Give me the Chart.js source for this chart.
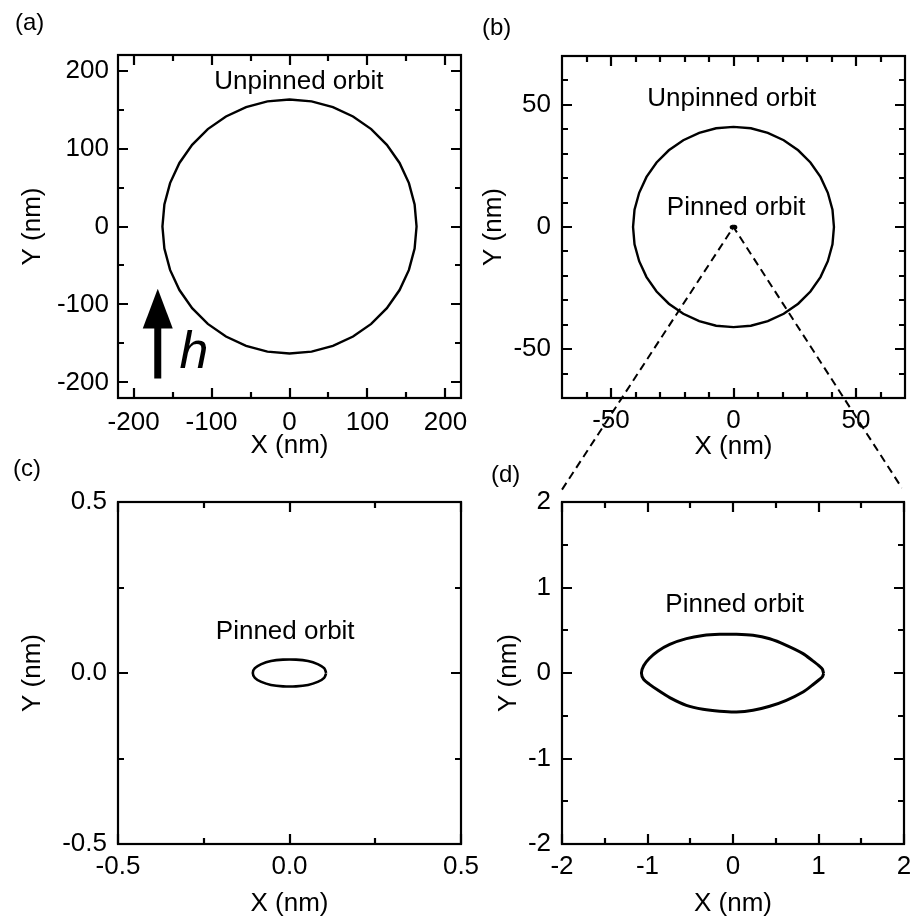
<!DOCTYPE html>
<html><head><meta charset="utf-8">
<script src="https://cdn.jsdelivr.net/npm/chart.js@4/dist/chart.umd.min.js"></script>
<style>
html,body{margin:0;padding:0;background:#fff;overflow:hidden}
#wrap{position:relative;width:914px;height:923px}
canvas{position:absolute;left:0;top:0}
</style></head><body>
<div id="wrap">
<canvas id="cA" width="914" height="923"></canvas>
<canvas id="cC" width="914" height="923"></canvas>
<canvas id="cD" width="914" height="923"></canvas>
<canvas id="cB" width="914" height="923"></canvas>
</div>
<script>
// ---------- data ----------
// (a) unpinned orbit, nm
const aOrbitX = [163, 160.5, 153.2, 141.2, 124.9, 104.8, 81.5, 55.7, 28.3, 0, -28.3, -55.7, -81.5, -104.8, -124.9, -141.2, -153.2, -160.5, -163, -160.5, -153.2, -141.2, -124.9, -104.8, -81.5, -55.7, -28.3, 0, 28.3, 55.7, 81.5, 104.8, 124.9, 141.2, 153.2, 160.5, 163];
const aOrbitY = [0, 28.3, 55.7, 81.5, 104.8, 124.9, 141.2, 153.2, 160.5, 163, 160.5, 153.2, 141.2, 124.9, 104.8, 81.5, 55.7, 28.3, 0, -28.3, -55.7, -81.5, -104.8, -124.9, -141.2, -153.2, -160.5, -163, -160.5, -153.2, -141.2, -124.9, -104.8, -81.5, -55.7, -28.3, 0];
// (b) unpinned orbit, nm
const bOrbitX = [41, 40.4, 38.5, 35.5, 31.4, 26.4, 20.5, 14.0, 7.1, 0, -7.1, -14.0, -20.5, -26.4, -31.4, -35.5, -38.5, -40.4, -41, -40.4, -38.5, -35.5, -31.4, -26.4, -20.5, -14.0, -7.1, 0, 7.1, 14.0, 20.5, 26.4, 31.4, 35.5, 38.5, 40.4, 41];
const bOrbitY = [0, 7.1, 14.0, 20.5, 26.4, 31.4, 35.5, 38.5, 40.4, 41, 40.4, 38.5, 35.5, 31.4, 26.4, 20.5, 14.0, 7.1, 0, -7.1, -14.0, -20.5, -26.4, -31.4, -35.5, -38.5, -40.4, -41, -40.4, -38.5, -35.5, -31.4, -26.4, -20.5, -14.0, -7.1, 0];
// pinned orbit (lens shape, panels b and d), nm
const pinnedX = [1.06, 1.045, 1.0, 0.93, 0.819, 0.624, 0.429, 0.234, 0.04, -0.156, -0.351, -0.545, -0.74, -0.88, -0.98, -1.045, -1.071, -1.045, -0.98, -0.88, -0.74, -0.545, -0.351, -0.156, 0.04, 0.234, 0.429, 0.624, 0.819, 0.93, 1.0, 1.045, 1.06];
const pinnedY = [-0.007, 0.045, 0.09, 0.145, 0.227, 0.324, 0.40, 0.441, 0.453, 0.452, 0.438, 0.402, 0.335, 0.255, 0.17, 0.085, 0, -0.075, -0.13, -0.2, -0.288, -0.378, -0.425, -0.448, -0.456, -0.436, -0.389, -0.319, -0.222, -0.14, -0.085, -0.045, -0.007];
// (c) pinned orbit, nm
const cOrbitX = [0.107, 0.101, 0.082, 0.054, 0.019, -0.019, -0.054, -0.082, -0.101, -0.107, -0.101, -0.082, -0.054, -0.019, 0.019, 0.054, 0.082, 0.101, 0.107];
const cOrbitY = [0, 0.014, 0.026, 0.035, 0.039, 0.039, 0.035, 0.026, 0.014, 0, -0.014, -0.026, -0.035, -0.039, -0.039, -0.035, -0.026, -0.014, 0];
// zoom connector from the pinned orbit in (b) to the corners of (d), in (b) units
const zoomLineX = [-70, 0, 68.7];
const zoomLineY = [-107.5, 0, -106.8];

// ticks
const aMajor = [-200, -100, 0, 100, 200];
const aLabels = ['-200', '-100', '0', '100', '200'];
const aMinor = [-150, -50, 50, 150];
const bMajor = [-50, 0, 50];
const bLabels = ['-50', '0', '50'];
const bMinor = [-60, -40, -30, -20, -10, 10, 20, 30, 40, 60];
const cMajor = [-0.5, 0, 0.5];
const cLabels = ['-0.5', '0.0', '0.5'];
const cMinor = [-0.25, 0.25];
const dMajor = [-2, -1, 0, 1, 2];
const dLabels = ['-2', '-1', '0', '1', '2'];
const dMinor = [-1.5, -0.5, 0.5, 1.5];

// ---------- drawing ----------
const FAM = '"Liberation Sans", Arial, Helvetica, sans-serif';
Chart.defaults.font.family = FAM;
Chart.defaults.color = '#000';

const pts = (xs, ys) => xs.map((x, i) => ({x, y: ys[i]}));

const frameTicks = {
  id: 'frameTicks',
  afterDatasetsDraw(chart, args, o) {
    const {ctx, chartArea: a, scales: {x, y}} = chart;
    ctx.save();
    ctx.strokeStyle = '#000';
    ctx.lineWidth = 2.2;
    ctx.lineCap = 'butt';
    const mark = (scale, vals, len) => vals.forEach(v => {
      const p = Math.round(scale.getPixelForValue(v));
      ctx.beginPath();
      if (scale.isHorizontal()) {
        ctx.moveTo(p, a.bottom); ctx.lineTo(p, a.bottom - len);
        ctx.moveTo(p, a.top); ctx.lineTo(p, a.top + len);
      } else {
        ctx.moveTo(a.left, p); ctx.lineTo(a.left + len, p);
        ctx.moveTo(a.right, p); ctx.lineTo(a.right - len, p);
      }
      ctx.stroke();
    });
    mark(x, o.major, 10); mark(x, o.minor, 6);
    mark(y, o.major, 10); mark(y, o.minor, 6);
    ctx.strokeRect(a.left, a.top, a.right - a.left, a.bottom - a.top);
    ctx.restore();
  }
};

const notes = {
  id: 'notes',
  afterDatasetsDraw(chart, args, o) {
    const {ctx, scales: {x, y}} = chart;
    ctx.save();
    ctx.fillStyle = '#000';
    ctx.textBaseline = 'alphabetic';
    (o.labels || []).forEach(l => {
      ctx.font = l.font;
      ctx.textAlign = l.align || 'center';
      ctx.fillText(l.text, x.getPixelForValue(l.x), y.getPixelForValue(l.y));
    });
    if (o.arrow) {
      const ar = o.arrow;
      const px = x.getPixelForValue(ar.x);
      const yb = y.getPixelForValue(ar.y0), yh = y.getPixelForValue(ar.yBase), yt = y.getPixelForValue(ar.y1);
      ctx.fillRect(px - ar.shaft / 2, yh - 1, ar.shaft, yb - yh + 1);
      ctx.beginPath();
      ctx.moveTo(px, yt); ctx.lineTo(px + ar.head, yh); ctx.lineTo(px - ar.head, yh); ctx.closePath();
      ctx.fill();
    }
    if (o.panel) {
      ctx.font = '24px ' + FAM;
      ctx.textAlign = 'left';
      ctx.fillText(o.panel.text, o.panel.px, o.panel.py);
    }
    ctx.restore();
  }
};

function makePanel(id, p) {
  const tickFont = {size: 26, family: FAM, lineHeight: 1.2};
  const titleFont = {size: 26, family: FAM, lineHeight: 1.2};
  const zeroPad = s => { s.paddingLeft = s.paddingRight = s.paddingTop = s.paddingBottom = 0; };
  const axis = (pos, title, size, tickPad, titlePad) => ({
    type: 'linear', position: pos, min: p.min, max: p.max,
    grid: {display: false, drawTicks: false},
    border: {display: false},
    afterBuildTicks: s => { s.ticks = p.major.map(v => ({value: v})); },
    ticks: {font: tickFont, padding: tickPad, autoSkip: false, maxRotation: 0,
            callback: (v, i) => p.labels[i]},
    title: {display: true, text: title, font: titleFont, padding: titlePad},
    afterFit: s => { if (pos === 'bottom') s.height = size; else s.width = size; zeroPad(s); }
  });
  return new Chart(document.getElementById(id), {
    type: 'scatter',
    data: {datasets: p.datasets},
    options: {
      responsive: false, animation: false, events: [],
      layout: {padding: p.pad},
      plugins: {legend: {display: false}, tooltip: {enabled: false},
                frameTicks: {major: p.major, minor: p.minor}, notes: p.notes},
      scales: {
        x: axis('bottom', 'X (nm)', p.hx, p.xTickPad, {top: 0, bottom: p.xTitlePad}),
        y: axis('left', 'Y (nm)', p.wy, p.yTickPad, {top: p.yTitlePad, bottom: 0})
      }
    },
    plugins: [frameTicks, notes]
  });
}

const line = (data, w, extra) => Object.assign({data, showLine: true, pointRadius: 0, borderColor: '#000',
  backgroundColor: '#000', borderWidth: w, fill: false, tension: 0}, extra || {});
const noteFont = '26px ' + FAM;

makePanel('cA', {
  min: -220, max: 220, major: aMajor, labels: aLabels, minor: aMinor,
  pad: {left: 0, right: 453, top: 55, bottom: 453}, wy: 118, hx: 72,
  xTickPad: 9, yTickPad: 9, xTitlePad: 9, yTitlePad: 17,
  datasets: [line(pts(aOrbitX, aOrbitY), 2.4)],
  notes: {
    labels: [{text: 'Unpinned orbit', x: 12, y: 176.5, font: noteFont},
             {text: 'h', x: -141, y: -181, font: 'italic 52px ' + FAM, align: 'left'}],
    arrow: {x: -169, y0: -195, yBase: -131, y1: -80, shaft: 7, head: 15},
    panel: {text: '(a)', px: 15, py: 30}
  }
});

makePanel('cB', {
  min: -70, max: 70, major: bMajor, labels: bLabels, minor: bMinor,
  pad: {left: 460, right: 9, top: 56, bottom: 453}, wy: 102, hx: 72,
  xTickPad: 7, yTickPad: 11, xTitlePad: 8, yTitlePad: 18,
  datasets: [line(pts(bOrbitX, bOrbitY), 2.4),
             line(pts(pinnedX, pinnedY), 2.4),
             line(pts(zoomLineX, zoomLineY), 2, {borderDash: [8, 5], clip: false})],
  notes: {
    labels: [{text: 'Unpinned orbit', x: -0.7, y: 49.4, font: noteFont},
             {text: 'Pinned orbit', x: 1.1, y: 4.9, font: noteFont}],
    panel: {text: '(b)', px: 482, py: 35}
  }
});

makePanel('cC', {
  min: -0.5, max: 0.5, major: cMajor, labels: cLabels, minor: cMinor,
  pad: {left: 0, right: 453, top: 502, bottom: 0}, wy: 118, hx: 79,
  xTickPad: 7, yTickPad: 11, xTitlePad: 4, yTitlePad: 17.5,
  datasets: [line(pts(cOrbitX, cOrbitY), 2.6, {tension: 0.4})],
  notes: {
    labels: [{text: 'Pinned orbit', x: -0.0125, y: 0.098, font: noteFont}],
    panel: {text: '(c)', px: 13, py: 476}
  }
});

makePanel('cD', {
  min: -2, max: 2, major: dMajor, labels: dLabels, minor: dMinor,
  pad: {left: 460, right: 10, top: 502, bottom: 0}, wy: 102, hx: 79,
  xTickPad: 7, yTickPad: 11, xTitlePad: 4, yTitlePad: 33,
  datasets: [line(pts(pinnedX, pinnedY), 3, {tension: 0.25})],
  notes: {
    labels: [{text: 'Pinned orbit', x: 0.02, y: 0.713, font: noteFont}],
    panel: {text: '(d)', px: 491, py: 482}
  }
});
</script>
</body></html>
